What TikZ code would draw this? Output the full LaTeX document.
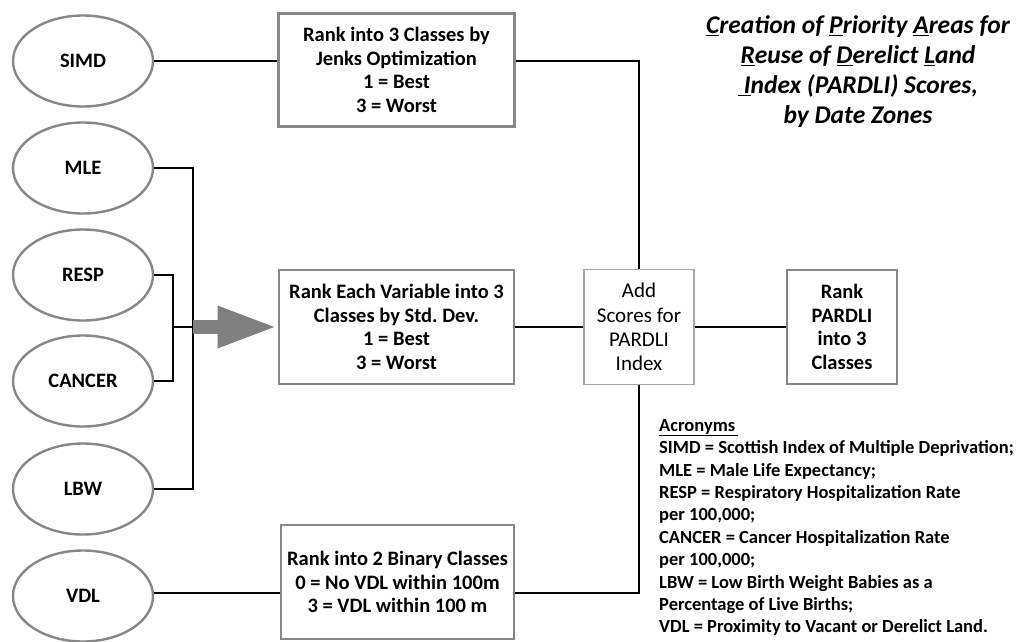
\documentclass[tikz,border=0pt]{standalone}
\usepackage{fontspec}
\setmainfont{Carlito}
\usetikzlibrary{shapes.geometric,arrows.meta,calc}
\definecolor{edgegray}{RGB}{135,135,135}
\definecolor{lightedge}{RGB}{165,165,165}
\definecolor{arrowgray}{RGB}{128,128,128}
\tikzset{
  var/.style={ellipse,draw=edgegray,line width=2.4pt,minimum width=140pt,minimum height=91pt,inner sep=0pt,font=\bfseries\fontsize{20.5}{22}\selectfont},
  rankbox/.style={rectangle,draw=edgegray,line width=2.6pt,align=center,inner sep=0pt,font=\bfseries\fontsize{20.5}{23.7}\selectfont},
  addbox/.style={rectangle,draw=lightedge,line width=1.4pt,align=center,inner sep=0pt,font=\fontsize{21}{24.3}\selectfont},
  conn/.style={draw=black,line width=1.6pt},
  fat/.style={draw=arrowgray,line width=14pt,-{Triangle[length=60pt,width=38pt]}}
}
\begin{document}
\begin{tikzpicture}[x=1pt,y=-1pt]
\useasboundingbox (0,0) rectangle (1018,641);
% ellipses
\node[var] (simd) at (83,61) {SIMD};
\node[var] (mle) at (83,168) {MLE};
\node[var] (resp) at (83,275) {RESP};
\node[var] (cancer) at (83,381) {CANCER};
\node[var] (lbw) at (83,489) {LBW};
\node[var] (vdl) at (83,596) {VDL};
% boxes
\node[rankbox,minimum width=236pt,minimum height=113pt] (jenks) at (396.5,70) {Rank into 3 Classes by\\Jenks Optimization\\1 = Best\\3 = Worst};
\node[rankbox,minimum width=235pt,minimum height=114pt] (std) at (396.5,327) {Rank Each Variable into 3\\Classes by Std.\ Dev.\\1 = Best\\3 = Worst};
\node[rankbox,minimum width=233pt,minimum height=114pt] (bin) at (397.5,582) {Rank into 2 Binary Classes\\0 = No VDL within 100m\\3 = VDL within 100 m};
\node[addbox,minimum width=110pt,minimum height=115pt] (add) at (639,327) {Add\\Scores for\\PARDLI\\Index};
\node[rankbox,minimum width=110pt,minimum height=114pt] (pardli) at (842,327) {Rank\\PARDLI\\into 3\\Classes};
% junctions
\coordinate (j1) at (193,327);
\coordinate (j2) at (173,327);
% connectors
\draw[conn] (simd.east) -- (simd.east -| jenks.west);
\draw[conn] (jenks.east |- simd.east) -| (add.north);
\draw[conn] (mle.east) -| (j1) |- (lbw.east);
\draw[conn] (resp.east) -| (j2) |- (cancer.east);
\draw[conn] (j2) -- (j1);
\draw[fat] (j1) -- (std.west);
\draw[conn] (std.east) -- (add.west);
\draw[conn] (add.east) -- (pardli.west);
\draw[conn] (vdl.east |- 0,593) -- (bin.west |- 0,593);
\draw[conn] (bin.east |- 0,593) -| (add.south);
% title
\node[align=center,inner sep=0pt,font=\bfseries\itshape\fontsize{25.5}{30}\selectfont] (title) at (858,72)
  {\underline{C}reation of \underline{P}riority \underline{A}reas for\\\underline{R}euse of \underline{D}erelict \underline{L}and\\\underline{\ I}ndex (PARDLI) Scores,\\by Date Zones};
% acronyms
\node[align=left,anchor=north west,inner sep=0pt,font=\bfseries\fontsize{18.5}{22.4}\selectfont] (acro) at (659,419)
  {\underline{Acronyms\,}\\
   SIMD = Scottish Index of Multiple Deprivation;\\
   MLE = Male Life Expectancy;\\
   RESP = Respiratory Hospitalization Rate\\
   per 100,000;\\
   CANCER = Cancer Hospitalization Rate\\
   per 100,000;\\
   LBW = Low Birth Weight Babies as a\\
   Percentage of Live Births;\\
   VDL = Proximity to Vacant or Derelict Land.};
\end{tikzpicture}
\end{document}
